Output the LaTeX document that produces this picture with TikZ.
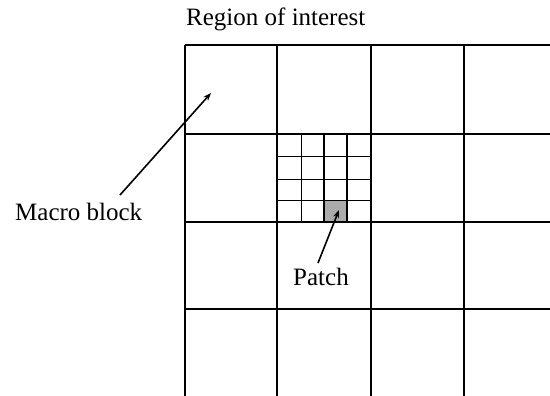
\documentclass[tikz,border=0pt]{standalone}
\usepackage{fontspec}
\setmainfont{Liberation Serif}
\usetikzlibrary{arrows.meta}

\begin{document}
\begin{tikzpicture}[
		x=1pt, y=-1pt,
		grid line/.style={black, line width=1.6pt},
		cell line/.style={black, line width=1.5pt},
		patch cell/.style={fill=black!33},
		pointer/.style={black, line width=1.6pt, -{Stealth[length=8pt, width=6pt]}},
		label text/.style={font=\fontsize{25}{30}\selectfont, inner sep=0pt, anchor=base west}
		]
		\useasboundingbox (0,0) rectangle (550,396);
		
		% =========================================================
		% Region of interest: macro block grid
		% =========================================================
		% Patch (filled first, so the lines lie on top)
		\fill[patch cell] (324,200.7) rectangle (347,221.7);
		
		% Vertical lines
		\foreach \x in {185, 277, 371, 464} {
			\draw[grid line] (\x,45) -- (\x,396);
		}
		% Horizontal lines
		\foreach \y in {45, 134, 222, 309} {
			\draw[grid line] (185,\y) -- (550,\y);
		}
		
		% =========================================================
		% One macro block split into patches
		% =========================================================
		\foreach \x in {301.7, 324, 347} {
			\draw[cell line] (\x,134) -- (\x,222);
		}
		\foreach \y in {156.7, 179.3, 200.7} {
			\draw[cell line] (277,\y) -- (371,\y);
		}
		
		% =========================================================
		% Labels
		% =========================================================
		\node[label text] (roi) at (186,26) {Region of interest};
		\node[label text] (macro) at (15,221) {Macro block};
		\node[label text] (patch) at (293,285) {Patch};
		
		% Pointer ends
		\coordinate (macro tail) at (120,195);
		\coordinate (macro tip) at (211,93);
		\coordinate (patch tail) at (318,263);
		\coordinate (patch tip) at (339,210);
		
		% Pointers
		\draw[pointer] (macro tail) -- (macro tip);
		\draw[pointer] (patch tail) -- (patch tip);
		
	\end{tikzpicture}
\end{document}
